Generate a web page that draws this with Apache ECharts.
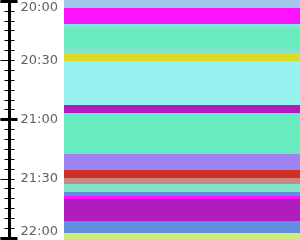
<!DOCTYPE html>
<html>
<head>
<meta charset="utf-8">
<script src="https://cdn.jsdelivr.net/npm/echarts@6/dist/echarts.min.js"></script>
<style>
  html, body { margin: 0; padding: 0; background: #fff; }
  #main { width: 300px; height: 240px; }
</style>
</head>
<body>
<div id="main"></div>
<script>
// 刻度（起止时间）
var tickLabels = ['20:00', '20:30', '21:00', '21:30', '22:00'];
// 色带起止时间
var bandStart = ['19:55', '20:03:30', '20:11:30', '20:12:30', '20:14:30', '20:23:30', '20:26:30',
  '20:30:30', '20:52:30', '20:56:30', '21:17:30', '21:25:30', '21:29:30', '21:32:30',
  '21:36:30', '21:38:30', '21:40:30', '21:51:30', '21:57:30'];
var bandEnd = ['20:03:30', '20:11:30', '20:12:30', '20:14:30', '20:23:30', '20:26:30', '20:30:30',
  '20:52:30', '20:56:30', '21:17:30', '21:25:30', '21:29:30', '21:32:30', '21:36:30',
  '21:38:30', '21:40:30', '21:51:30', '21:57:30', '22:05'];
// 色带颜色
var palette = ['#a4c8ea', '#fc12fc', '#60f4f4', '#80e2c8', '#66ecbe', '#80e2c8', '#dcdc24',
  '#96f2ee', '#b01cbc', '#66ecbe', '#9c84f2', '#d03024', '#c88a80', '#80e2c8',
  '#628ee0', '#fc12fc', '#b01cbc', '#628ee0', '#d2e87a'];

window.onload = function () {
  var chart = echarts.init(document.getElementById('main'));

  // 时间 -> 距起点分钟数
  function toMin(t) {
    var p = t.split(':');
    var m = (+p[0]) * 60 + (+p[1]) + (p[2] ? +p[2] / 60 : 0);
    return m - 20 * 60;
  }
  function fmt(v) {
    var m = Math.round(v) + 20 * 60;
    var h = Math.floor(m / 60), mm = m % 60;
    return h + ':' + (mm < 10 ? '0' : '') + mm;
  }

  var tMin = toMin(tickLabels[0]);
  var tMax = toMin(tickLabels[tickLabels.length - 1]);

  var bands = bandStart.map(function (s, i) {
    return { value: [toMin(s), toMin(bandEnd[i])], itemStyle: { color: palette[i] } };
  });

  var black = '#000';
  function axis(extra) {
    return Object.assign({
      type: 'value',
      gridIndex: 0,
      position: 'left',
      inverse: true,
      min: tMin,
      max: tMax,
      interval: 30,
      splitLine: { show: false },
      axisLine: { show: false, onZero: false },
      axisLabel: { show: false },
      axisTick: { show: false },
      minorTick: { show: false }
    }, extra);
  }

  var option = {
    animation: false,
    grid: [
      { left: 9.5, width: 50, top: 1, bottom: 2 },
      { left: 64, right: 0, top: 1, bottom: 2 }
    ],
    xAxis: [
      { type: 'value', gridIndex: 0, show: false, min: 0, max: 1 },
      { type: 'value', gridIndex: 1, show: false, min: 0, max: 1 }
    ],
    yAxis: [
      // 主轴：轴线、标签、外侧刻度
      axis({
        axisLine: { show: true, onZero: false, lineStyle: { color: black, width: 3 } },
        axisTick: { show: true, length: 9, lineStyle: { color: black, width: 1 } },
        minorTick: { show: true, splitNumber: 6, length: 5, lineStyle: { color: black, width: 1 } },
        axisLabel: {
          show: true,
          inside: true,
          margin: 11,
          color: '#606060',
          fontSize: 13,
          fontFamily: 'DejaVu Sans',
          formatter: fmt,
          verticalAlignMinLabel: 'top',
          verticalAlignMaxLabel: 'bottom'
        }
      }),
      // 内侧刻度
      axis({
        axisTick: { show: true, inside: true, length: 5, lineStyle: { color: black, width: 1 } },
        minorTick: { show: true, splitNumber: 6, length: 5, lineStyle: { color: black, width: 1 } }
      }),
      // 整点粗刻度
      axis({
        interval: 60,
        axisTick: { show: true, length: 9, lineStyle: { color: black, width: 3 } }
      }),
      axis({
        interval: 60,
        axisTick: { show: true, inside: true, length: 8, lineStyle: { color: black, width: 3 } }
      }),
      {
        type: 'value', gridIndex: 1, show: false, inverse: true,
        min: tMin, max: tMax
      }
    ],
    series: [
      {
        type: 'custom',
        xAxisIndex: 1,
        yAxisIndex: 4,
        clip: false,
        encode: { y: [0, 1] },
        renderItem: function (params, api) {
          var p0 = api.coord([0, api.value(0)]);
          var p1 = api.coord([1, api.value(1)]);
          var y0 = Math.round(p0[1]), y1 = Math.round(p1[1]);
          return {
            type: 'rect',
            shape: { x: p0[0], y: y0, width: p1[0] - p0[0], height: y1 - y0 },
            style: { fill: api.visual('color') }
          };
        },
        data: bands
      }
    ]
  };

  chart.setOption(option);
};
</script>
</body>
</html>
